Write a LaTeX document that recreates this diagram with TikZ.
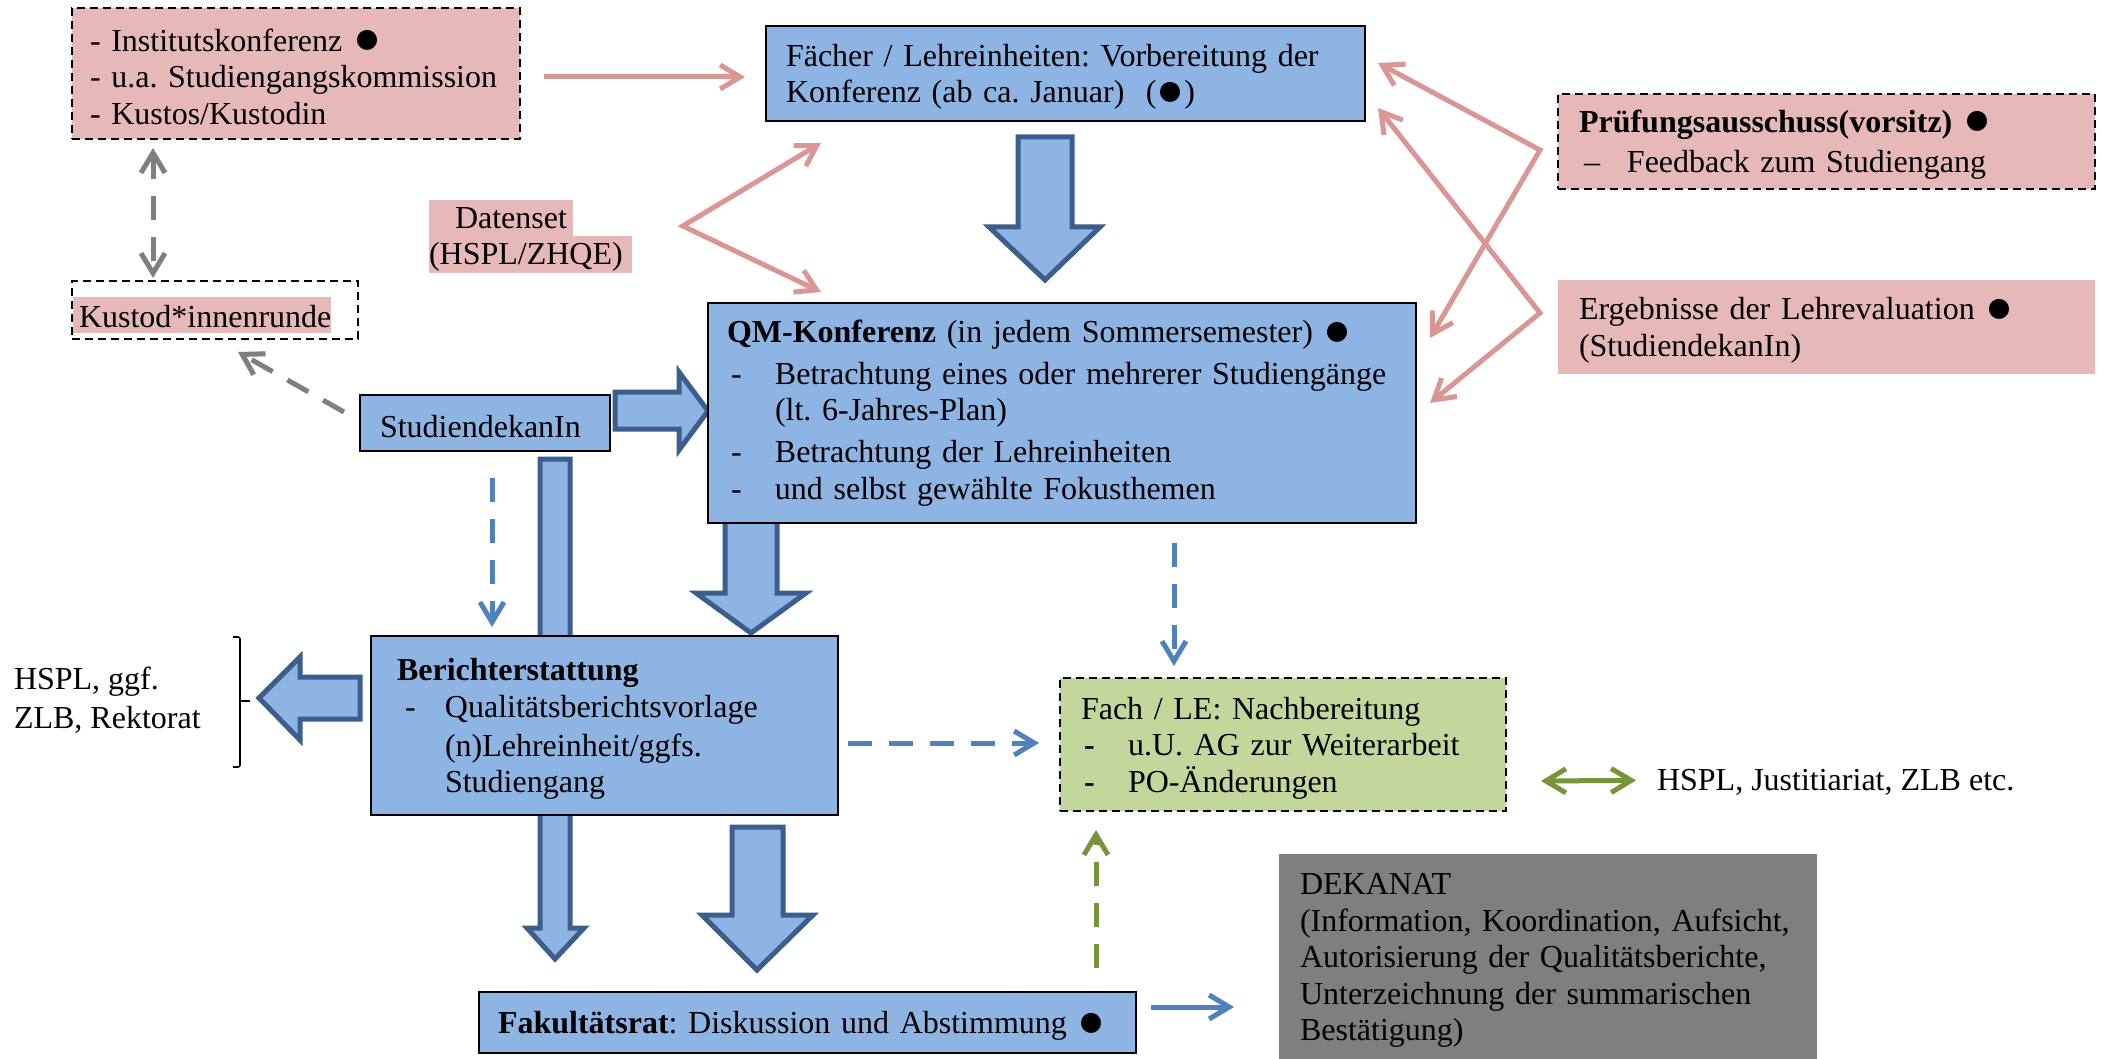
\documentclass[tikz,border=0pt]{standalone}
\usepackage{fontspec}
\setmainfont{Liberation Serif}
\usetikzlibrary{arrows.meta}
\definecolor{blueF}{HTML}{8EB4E3}
\definecolor{blueD}{HTML}{3B5E8C}
\definecolor{pinkF}{HTML}{E6B9B8}
\definecolor{pinkA}{HTML}{D99694}
\definecolor{greenF}{HTML}{C3D69B}
\definecolor{greenA}{HTML}{77933C}
\definecolor{grayF}{HTML}{7F7F7F}
\definecolor{blueA}{HTML}{4F81BD}
\newcommand\fs{\fontsize{32}{36.5}\selectfont\frenchspacing}
\newcommand\tstrut{\rule{0pt}{29pt}}
\newcommand\bdot{\smash{\raisebox{-2.5pt}{\scalebox{1.45}{●}}}}
\begin{document}
\frenchspacing
\begin{tikzpicture}[x=1pt,y=-1pt,
  every node/.style={font=\fs, inner sep=0pt, outer sep=0pt},
  tbox/.style={anchor=north west, align=left, inner xsep=20pt, inner ysep=0pt},
  bluebox/.style={tbox, draw=black, line width=2pt, fill=blueF},
  dbox/.style={tbox, draw=black, line width=2pt, dash pattern=on 8pt off 5pt},
  blockarrow/.style={fill=blueF, draw=blueD, line width=5pt, line join=miter},
  conn/.style={line width=5pt, line join=miter, -{Straight Barb[length=20pt,width=24pt]}},
  conn2/.style={line width=5pt, line join=miter, {Straight Barb[length=20pt,width=24pt]}-{Straight Barb[length=20pt,width=24pt]}},
  dashd/.style={dash pattern=on 24pt off 17pt},
]
\fill[white] (0,0) rectangle (2101,1059);
\useasboundingbox (0,0) rectangle (2101,1059);

% block arrows (drawn first, boxes on top)
\draw[blockarrow] (1018,137) -- (1072,137) -- (1072,227) -- (1100,227) -- (1045,280) -- (989,227) -- (1018,227) -- cycle;
\draw[blockarrow] (615,392) -- (679,392) -- (679,372) -- (708,411) -- (679,450) -- (679,429) -- (615,429) -- cycle;
\draw[blockarrow] (725,520) -- (777,520) -- (777,593) -- (806,593) -- (751,633) -- (696,593) -- (725,593) -- cycle;
\draw[blockarrow] (540,459) -- (570,459) -- (570,928) -- (584,928) -- (555,959) -- (527,928) -- (540,928) -- cycle;
\draw[blockarrow] (732,827) -- (783,827) -- (783,915) -- (813,915) -- (757,970) -- (702,915) -- (732,915) -- cycle;
\draw[blockarrow] (360,677) -- (300,677) -- (300,657) -- (259,698) -- (300,740) -- (300,719) -- (360,719) -- cycle;

% boxes
\node[dbox, fill=pinkF, text width=412pt, inner xsep=18pt, minimum height=131pt] (inst) at (72,8)
  {\tstrut- Institutskonferenz \bdot\\- u.a. Studiengangskommission\\- Kustos/Kustodin};
\node[bluebox, text width=559pt, minimum height=95pt] (faecher) at (766,26)
  {\tstrut Fächer / Lehreinheiten: Vorbereitung der\\Konferenz (ab ca. Januar)\ \ (\bdot)};
\node[anchor=north west, fill=pinkF, text height=29pt, text depth=7pt] (ds1) at (429,200)
  {\hspace*{26pt}Datenset\hspace*{6pt}};
\node[anchor=north west, fill=pinkF, text height=29pt, text depth=8pt] (ds2) at (429,236)
  {(HSPL/ZHQE)\hspace*{9pt}};
\node[dbox, fill=white, minimum width=286pt, minimum height=58pt] (kustod) at (72,281) {};
\node[anchor=north west, fill=pinkF, text height=30pt, text depth=6pt] (kustodtxt) at (73,297)
  {\hspace*{6pt}Kustod*innenrunde};
\node[bluebox, text width=210pt, minimum height=56pt] (sdekan) at (360,395) {\tstrut StudiendekanIn};
\node[bluebox, inner xsep=19pt, text width=670pt, minimum height=220pt] (qm) at (708,303)
  {\textbf{QM-Konferenz} (in jedem Sommersemester) \bdot\\[5pt]
   \hspace*{4pt}\makebox[44pt][l]{-}Betrachtung eines oder mehrerer Studiengänge\\
   \hspace*{48pt}(lt. 6-Jahres-Plan)\\[5.5pt]
   \hspace*{4pt}\makebox[44pt][l]{-}Betrachtung der Lehreinheiten\\
   \hspace*{4pt}\makebox[44pt][l]{-}und selbst gewählte Fokusthemen};
\node[dbox, fill=pinkF, inner xsep=21pt, text width=495pt, minimum height=95pt] (pruef) at (1558,94)
  {\tstrut\textbf{Prüfungsausschuss(vorsitz)} \bdot\\[4pt]\hspace*{5pt}\makebox[43pt][l]{–}Feedback zum Studiengang};
\node[tbox, fill=pinkF, inner xsep=21pt, text width=495pt, minimum height=94pt] (ergeb) at (1558,280)
  {\tstrut Ergebnisse der Lehrevaluation \bdot\\(StudiendekanIn)};
\node[bluebox, inner xsep=26pt, text width=415pt, minimum height=179pt] (bericht) at (371,636)
  {\tstrut\textbf{Berichterstattung}\\[1pt]
   \hspace*{8pt}\makebox[40pt][l]{-}Qualitätsberichtsvorlage\\[2pt]
   \hspace*{48pt}(n)Lehreinheit/ggfs.\\
   \hspace*{48pt}Studiengang};
\node[dbox, fill=greenF, inner xsep=21pt, text width=404pt, minimum height=133pt] (fach) at (1060,678)
  {\tstrut Fach / LE: Nachbereitung\\
   \hspace*{3pt}\makebox[44pt][l]{\textbf{-}}u.U. AG zur Weiterarbeit\\
   \hspace*{3pt}\makebox[44pt][l]{\textbf{-}}PO-Änderungen};
\node[bluebox, inner xsep=19pt, text width=619pt, minimum height=61pt] (fak) at (479,992)
  {\tstrut\textbf{Fakultätsrat}: Diskussion und Abstimmung \bdot};
\node[tbox, fill=grayF, inner xsep=21pt, text width=496pt, minimum height=205pt] (dekanat) at (1279,854)
  {\tstrut DEKANAT\\(Information, Koordination, Aufsicht,\\Autorisierung der Qualitätsberichte,\\Unterzeichnung der summarischen\\Bestätigung)};
\node[anchor=north west, align=left] (hspl1) at (14,667) {HSPL, ggf.\\[2.5pt]ZLB, Rektorat};
\node[anchor=base west] (hspl2) at (1657,790) {HSPL, Justitiariat, ZLB etc.};

% brace
\draw[line width=1.6pt, rounded corners=2pt] (233,637) -- (240,637) -- (240,767) -- (233,767);
\draw[line width=1.6pt] (240,701) -- (250,701);

% thin connectors
\coordinate (dsv) at ([xshift=51pt,yshift=10pt]ds2.north east);
\coordinate (pv) at ([xshift=-18pt,yshift=-8.5pt]pruef.west);
\coordinate (ev) at ([xshift=-18pt,yshift=14pt]ergeb.west);
\draw[conn, draw=pinkA] ([xshift=24pt,yshift=-3.5pt]inst.east) -- ([xshift=-21pt,yshift=-3.5pt]faecher.west);
\draw[conn2, draw=pinkA] ([xshift=55pt,yshift=-22pt]faecher.south west) -- (dsv) -- ([xshift=113pt,yshift=11pt]qm.north west);
\draw[conn2, draw=pinkA] ([xshift=13pt,yshift=-37pt]faecher.north east) -- (pv) -- ([xshift=14pt,yshift=-35pt]qm.north east);
\draw[conn2, draw=pinkA] ([xshift=13pt,yshift=13pt]faecher.south east) -- (ev) -- ([xshift=14pt,yshift=-100pt]qm.north east);
\draw[conn2, dashd, draw=grayF] ([xshift=81pt,yshift=-9pt]inst.south west) -- ([xshift=81pt,yshift=3pt]kustod.north west);
\draw[conn, dashd, draw=grayF] ([xshift=-16pt,yshift=11pt]sdekan.west) -- ([xshift=-120pt,yshift=-13pt]kustod.south east);
\draw[conn, dashd, draw=blueA] ([xshift=132pt,yshift=-27pt]sdekan.south west) -- ([xshift=121pt,yshift=9pt]bericht.north west);
\draw[conn, dashd, draw=blueA] ([xshift=466pt,yshift=-20pt]qm.south west) -- ([xshift=114pt,yshift=12pt]fach.north west);
\draw[conn, dashd, draw=blueA] ([xshift=10pt,yshift=-17.5pt]bericht.east) -- ([xshift=-21pt,yshift=1.5pt]fach.west);
\draw[conn, draw=blueA] ([xshift=15pt,yshift=15.5pt]fak.east) -- ([xshift=-45pt,yshift=-50.5pt]dekanat.west);
\draw[conn2, draw=greenA] ([xshift=35pt,yshift=-36.5pt]fach.east) -- ([xshift=-21pt,yshift=1.5pt]hspl2.west);
\draw[conn, dashd, draw=greenA] ([xshift=617pt,yshift=24pt]fak.north west) -- ([xshift=36pt,yshift=-19pt]fach.south west);
\end{tikzpicture}
\end{document}
